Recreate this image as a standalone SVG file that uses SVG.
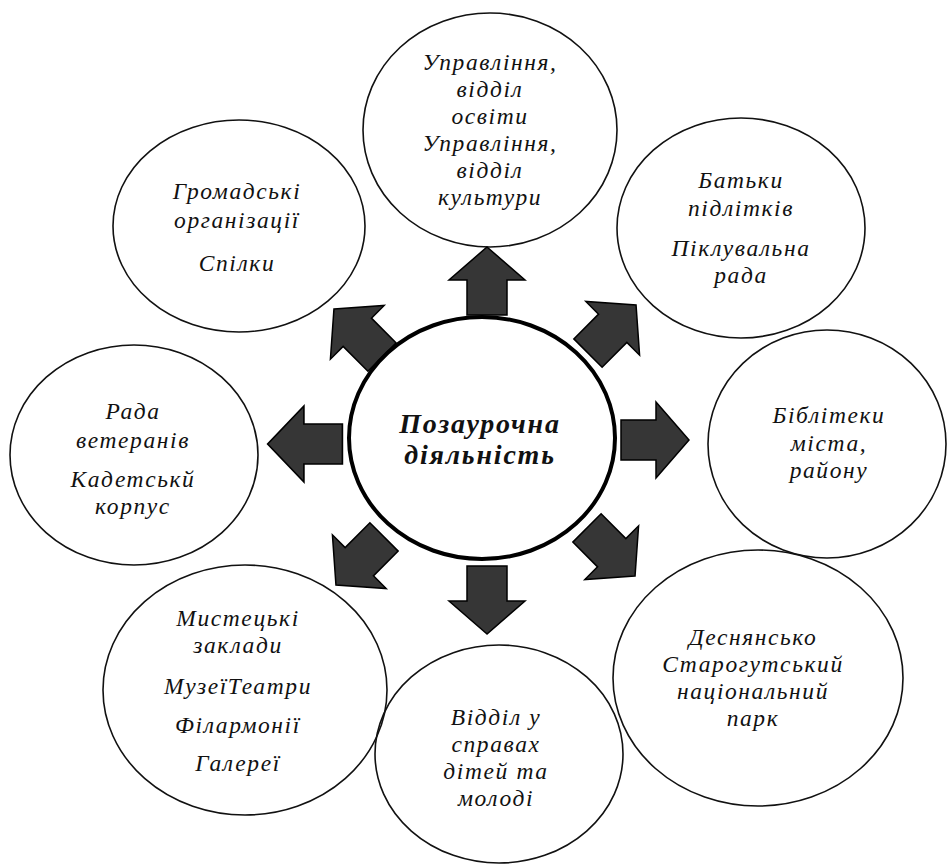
<svg xmlns="http://www.w3.org/2000/svg" width="948" height="868" viewBox="0 0 948 868">
<style>
.node{fill:none;stroke:#111;stroke-width:1.6}
.hub{fill:#fff;stroke:#000;stroke-width:4}
.t{font-family:"Liberation Serif","DejaVu Serif",serif;font-style:italic;font-size:23.5px;letter-spacing:1.6px;fill:#111;text-anchor:middle}
.h{font-family:"Liberation Serif","DejaVu Serif",serif;font-style:italic;font-weight:bold;font-size:28px;letter-spacing:1.8px;fill:#111;text-anchor:middle}
.arr{fill:#363636;stroke:#000;stroke-width:1.5;stroke-linejoin:miter}
</style>
<defs>
<path id="a" d="M0,-34 L38,-1 L20,-1 L20,34 L-20,34 L-20,-1 L-38,-1 Z"/>
</defs>
<rect width="948" height="868" fill="#fff"/>
<g id="n-top">
<ellipse class="node" cx="490" cy="130" rx="127" ry="117"/>
<text class="t"><tspan x="490" y="70">Управління,</tspan><tspan x="490" y="97">відділ</tspan><tspan x="490" y="124">освіти</tspan><tspan x="490" y="151">Управління,</tspan><tspan x="490" y="178">відділ</tspan><tspan x="490" y="205">культури</tspan></text>
</g>
<g id="n-upper-left">
<ellipse class="node" cx="239" cy="226" rx="126" ry="106"/>
<text class="t"><tspan x="237" y="199">Громадські</tspan><tspan x="237" y="228">організації</tspan><tspan x="237" y="271">Спілки</tspan></text>
</g>
<g id="n-upper-right">
<ellipse class="node" cx="741" cy="228" rx="124" ry="110"/>
<text class="t"><tspan x="741" y="188">Батьки</tspan><tspan x="741" y="216">підлітків</tspan><tspan x="741" y="256">Піклувальна</tspan><tspan x="741" y="283">рада</tspan></text>
</g>
<g id="n-left">
<ellipse class="node" cx="134" cy="455" rx="124" ry="110"/>
<text class="t"><tspan x="133" y="419">Рада</tspan><tspan x="133" y="448">ветеранів</tspan><tspan x="133" y="487">Кадетськй</tspan><tspan x="133" y="514">корпус</tspan></text>
</g>
<g id="n-right">
<ellipse class="node" cx="827" cy="444" rx="119" ry="114"/>
<text class="t"><tspan x="829" y="423">Біблітеки</tspan><tspan x="829" y="451">міста,</tspan><tspan x="829" y="478">району</tspan></text>
</g>
<g id="n-lower-right">
<ellipse class="node" cx="758" cy="678" rx="145" ry="128"/>
<text class="t"><tspan x="753" y="645">Деснянсько</tspan><tspan x="753" y="672">Старогутський</tspan><tspan x="753" y="699">національний</tspan><tspan x="753" y="726">парк</tspan></text>
</g>
<g id="n-bottom">
<ellipse class="node" cx="499" cy="754" rx="124" ry="109"/>
<text class="t"><tspan x="496" y="725">Відділ у</tspan><tspan x="496" y="752">справах</tspan><tspan x="496" y="779">дітей та</tspan><tspan x="496" y="806">молоді</tspan></text>
</g>
<g id="n-lower-left">
<ellipse class="node" cx="245" cy="690" rx="142" ry="125"/>
<text class="t"><tspan x="238" y="626">Мистецькі</tspan><tspan x="238" y="653">заклади</tspan><tspan x="238" y="694">МузеїТеатри</tspan><tspan x="238" y="733">Філармонії</tspan><tspan x="238" y="771">Галереї</tspan></text>
</g>
<g id="connectors">
<use href="#a" class="arr" transform="translate(487,281)"/>
<use href="#a" class="arr" transform="translate(612,329) rotate(45)"/>
<use href="#a" class="arr" transform="translate(655,440) rotate(90)"/>
<use href="#a" class="arr" transform="translate(611,552) rotate(135)"/>
<use href="#a" class="arr" transform="translate(487,600) rotate(180)"/>
<use href="#a" class="arr" transform="translate(360,561) rotate(-135)"/>
<use href="#a" class="arr" transform="translate(305,444) rotate(-90) scale(1,1.1)"/>
<use href="#a" class="arr" transform="translate(358,333) rotate(-45)"/>
</g>
<g id="n-center">
<ellipse class="hub" cx="482" cy="438" rx="133" ry="121"/>
<text class="h"><tspan x="480" y="433">Позаурочна</tspan><tspan x="480" y="464">діяльність</tspan></text>
</g>
</svg>
